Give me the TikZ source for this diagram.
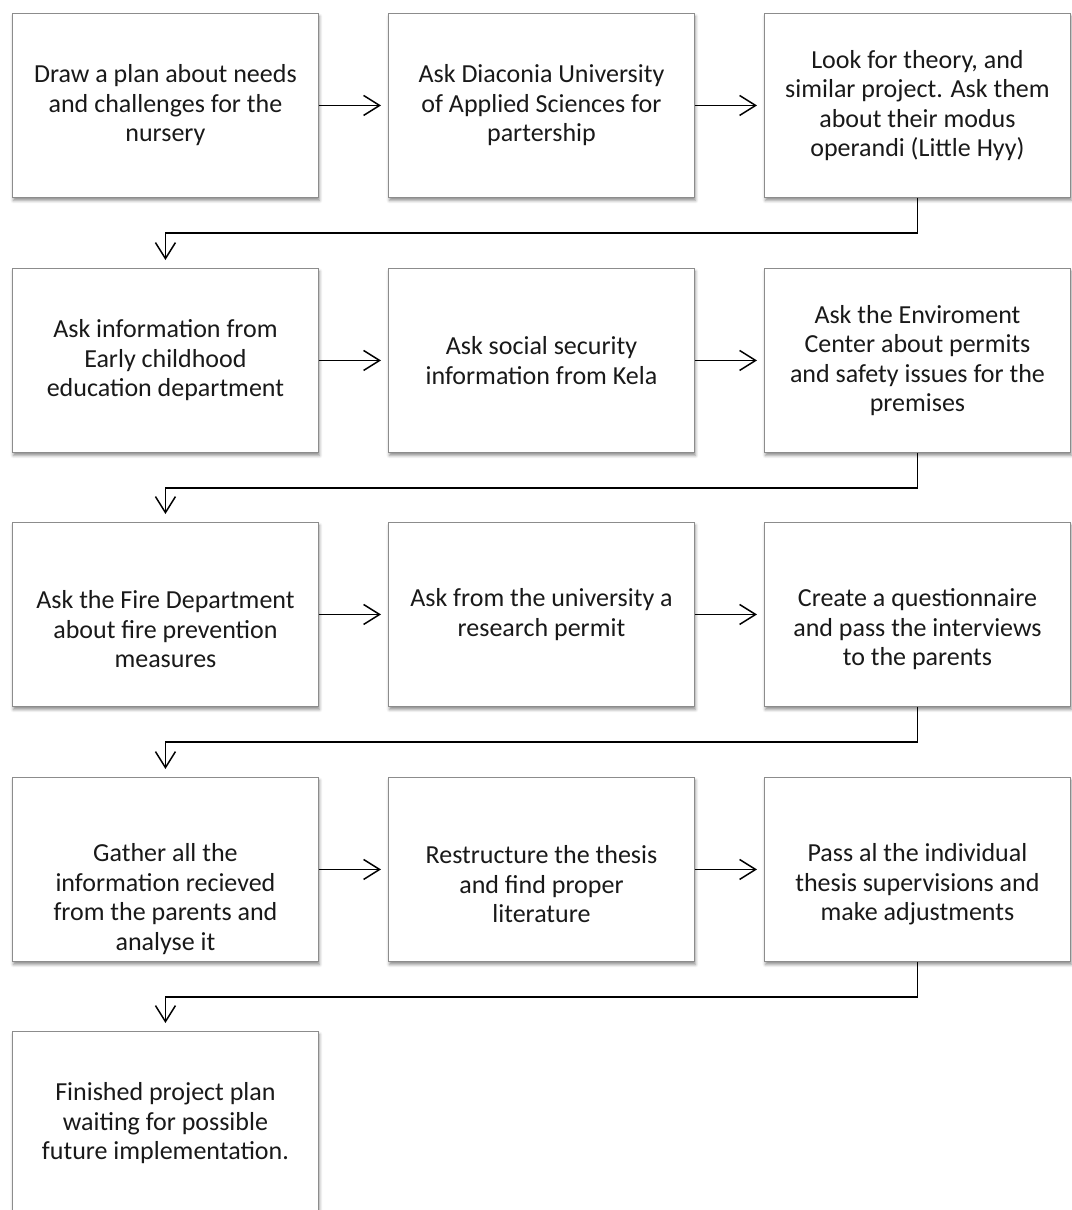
\documentclass[tikz,border=0pt]{standalone}
\usepackage{fontspec}
\setmainfont{Carlito}
\usetikzlibrary{arrows.meta,shadows.blur,positioning}
\begin{document}
\begin{tikzpicture}[x=1pt,y=-1pt,
  stepbox/.style={draw=black!45, line width=0.9pt, fill=white, anchor=north west,
    minimum width=306pt, minimum height=184pt, inner sep=0pt,
    blur shadow={shadow xshift=1pt, shadow yshift=-3pt, shadow blur radius=3pt, shadow opacity=45}},
  steptext/.style={inner sep=0pt, align=center, font=\fontsize{26}{29.5}\selectfont, text=black!90},
  conn/.style={line width=1.5pt, -{Straight Barb[length=16pt,width=20pt,line width=1.5pt]}}
]
\useasboundingbox (0,0) rectangle (1071,1210);
% boxes
\node[stepbox] (b1) at (12,13) {};
\node[stepbox] (b2) at (388,13) {};
\node[stepbox] (b3) at (764,13) {};
\node[stepbox] (b4) at (12,268) {};
\node[stepbox] (b5) at (388,268) {};
\node[stepbox] (b6) at (764,268) {};
\node[stepbox] (b7) at (12,522) {};
\node[stepbox] (b8) at (388,522) {};
\node[stepbox] (b9) at (764,522) {};
\node[stepbox] (b10) at (12,777) {};
\node[stepbox] (b11) at (388,777) {};
\node[stepbox] (b12) at (764,777) {};
\node[stepbox] (b13) at (12,1031) {};
% texts
\node[steptext] (t1) at (b1.center) {Draw a plan about needs\\and challenges for the\\nursery};
\node[steptext] (t2) at (b2.center) {Ask Diaconia University\\of Applied Sciences for\\partership};
\node[steptext] (t3) at (b3.center) {Look for theory, and\\similar project. Ask them\\about their modus\\operandi (Little Hyy)};
\node[steptext] (t4) at (b4.center) {Ask information from\\Early childhood\\education department};
\node[steptext] (t5) at (b5.center) {Ask social security\\information from Kela};
\node[steptext] (t6) at (b6.center) {Ask the Enviroment\\Center about permits\\and safety issues for the\\premises};
\node[steptext, yshift=-14.75pt] (t7) at (b7.center) {Ask the Fire Department\\about fire prevention\\measures};
\node[steptext] (t8) at (b8.center) {Ask from the university a\\research permit};
\node[steptext, yshift=-14.75pt] (t9) at (b9.center) {Create a questionnaire\\and pass the interviews\\to the parents};
\node[steptext, yshift=-29.5pt] (t10) at (b10.center) {Gather all the\\information recieved\\from the parents and\\analyse it};
\node[steptext, yshift=-14.75pt] (t11) at (b11.center) {Restructure the thesis\\and find proper\\literature};
\node[steptext, yshift=-14.75pt] (t12) at (b12.center) {Pass al the individual\\thesis supervisions and\\make adjustments};
\node[steptext] (t13) at (b13.center) {Finished project plan\\waiting for possible\\future implementation.};

\foreach \a/\b in {b1/b2,b2/b3,b4/b5,b5/b6,b7/b8,b8/b9,b10/b11,b11/b12}{
  \draw[conn, shorten >=7pt] (\a.east) -- (\b.west);
}
\foreach \a/\b in {b3/b4,b6/b7,b9/b10,b12/b13}{
  \draw[conn, shorten >=8pt] (\a.south) -- ++(0,35) -| (\b.north);
}
\end{tikzpicture}
\end{document}
